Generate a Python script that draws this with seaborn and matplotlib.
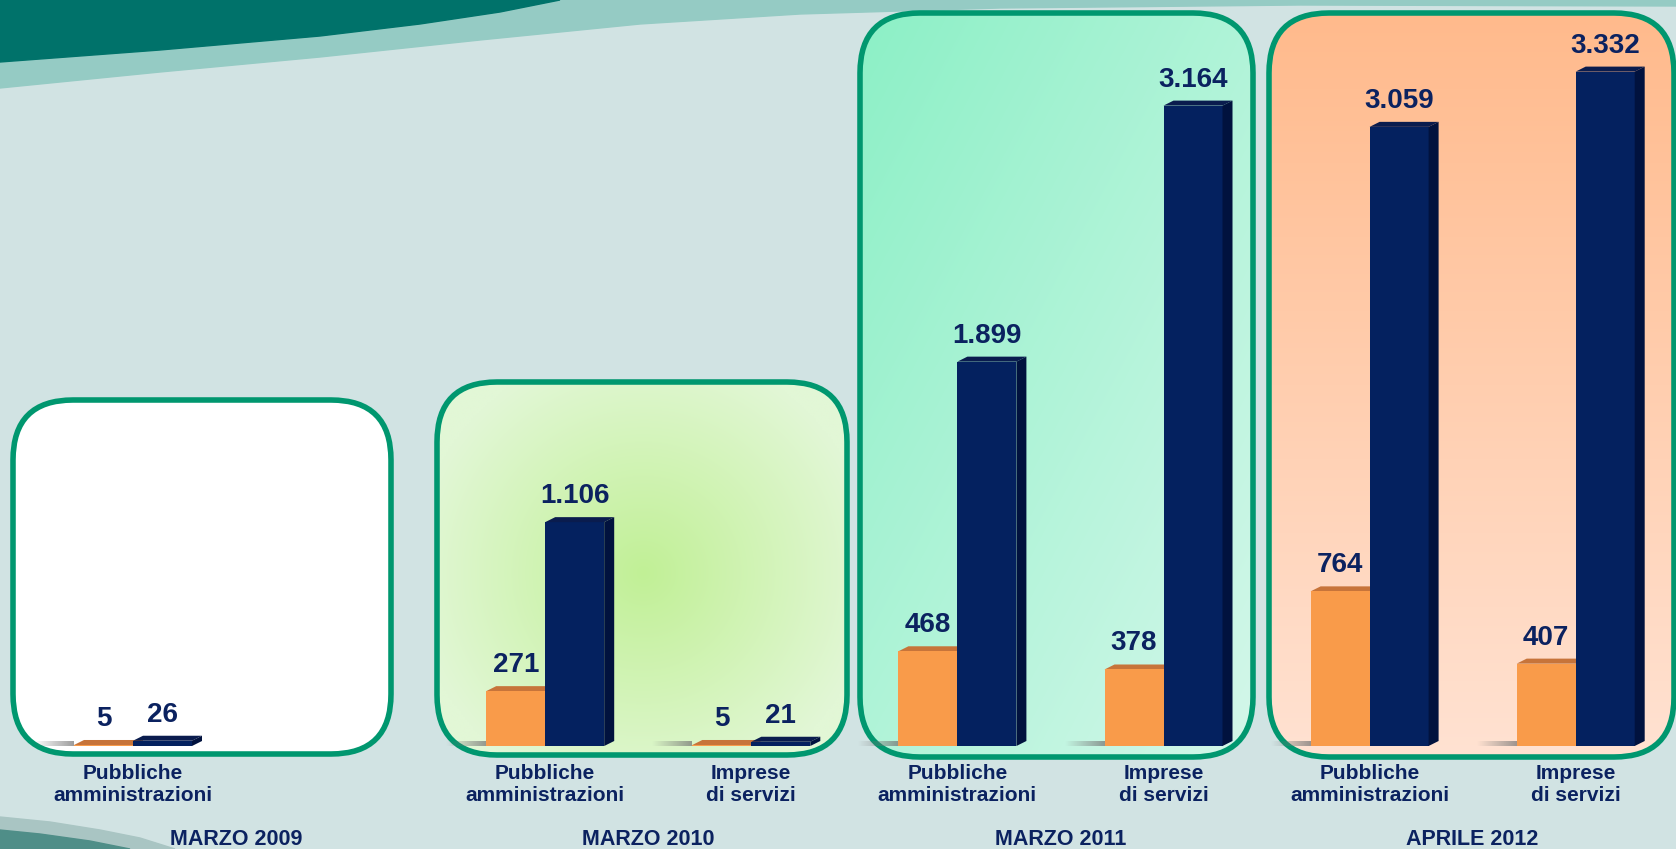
import matplotlib
matplotlib.use("Agg")
import matplotlib.pyplot as plt
import numpy as np
import pandas as pd
import seaborn as sns
from matplotlib.patches import FancyBboxPatch, Polygon, Rectangle

# data
periods = ["MARZO 2009", "MARZO 2010", "MARZO 2011", "APRILE 2012"]
sectors = ["Pubbliche\namministrazioni", "Imprese\ndi servizi"]
series_names = ["arancio", "blu"]

pa_orange = [5, 271, 468, 764]
pa_navy = [26, 1106, 1899, 3059]
imp_orange = [None, 5, 378, 407]
imp_navy = [None, 21, 3164, 3332]

# colours
ORANGE, ORANGE_TOP = "#F99B4A", "#C7743A"
NAVY, NAVY_TOP, NAVY_SIDE = "#04215F", "#0A1C4E", "#01123E"
TEXT = "#0B2260"
BG = "#D1E3E3"
BORDER = "#00976F"

# layout in pixels
W, H = 1676, 849
SLOT0_PX, SLOT_PX = 133, 206.1
BASE_PX, PX_PER_UNIT = 746, 0.2024
BAR_PX = 59

rows = []
for i, period in enumerate(periods):
    pairs = [(sectors[0], pa_orange[i], pa_navy[i]),
             (sectors[1], imp_orange[i], imp_navy[i])]
    for sector, vo, vn in pairs:
        if vo is None:
            continue
        slot = f"{period}|{sector}"
        rows.append({"slot": slot, "serie": series_names[0], "valore": vo})
        rows.append({"slot": slot, "serie": series_names[1], "valore": vn})
df = pd.DataFrame(rows)
slots = [f"{p}|{s}" for p in periods for s in sectors]

sns.set_style("white")
plt.rcParams["font.family"] = ["Liberation Sans", "DejaVu Sans"]

fig = plt.figure(figsize=(W / 100, H / 100), dpi=100)

# ---- background layer, in pixel units ----
bg = fig.add_axes([0, 0, 1, 1], zorder=0)
bg.set_axis_off()
bg.add_patch(Rectangle((0, 0), W, H, color=BG, zorder=0))

light_edge = [(0, 88), (160, 72), (320, 57), (480, 40), (640, 24), (800, 14),
              (1000, 8), (1300, 5), (1676, 6)]
bg.add_patch(Polygon(light_edge + [(W, 0), (0, 0)], color="#95CBC4", zorder=1))
dark_edge = [(0, 62), (160, 50), (320, 36), (420, 24), (500, 12), (560, 0)]
bg.add_patch(Polygon(dark_edge + [(0, 0)], color="#00726A", zorder=1))
bg.add_patch(Polygon([(0, 817), (50, 822), (100, 830), (140, 838), (175, 849), (0, 849)],
                     color="#A9C5C3", zorder=1))
bg.add_patch(Polygon([(0, 830), (40, 834), (90, 841), (130, 849), (0, 849)],
                     color="#4F8E88", zorder=1))


def hex_rgb(c):
    return np.array([int(c[i:i + 2], 16) for i in (1, 3, 5)]) / 255


def blend(c0, c1, t):
    t = np.clip(t, 0, 1)[..., None]
    return hex_rgb(c0) * (1 - t) + hex_rgb(c1) * t


def rounded_box(l, t, r, b, kind, c0, c1):
    yy, xx = np.mgrid[t:b:200j, l:r:200j]
    if kind == "radial":
        cx, cy = 643, 573
        d = np.sqrt(((xx - cx) / 230) ** 2 + ((yy - cy) / 230) ** 2)
        img = blend(c0, c1, d)
    elif kind == "diag":
        img = blend(c0, c1, ((xx - l) / (r - l) + (yy - t) / (b - t)) / 2)
    else:
        img = blend(c0, c1, (yy - t) / (b - t))
    frame = FancyBboxPatch((l, t), r - l, b - t,
                           boxstyle="round,pad=0,rounding_size=60",
                           facecolor="none", edgecolor=BORDER, lw=4, zorder=3)
    bg.add_patch(frame)
    im = bg.imshow(img, extent=(l, r, b, t), origin="upper", aspect="auto",
                   interpolation="bilinear", zorder=2)
    im.set_clip_path(frame)


rounded_box(13, 400, 391, 754, "flat", "#FFFFFF", "#FFFFFF")
rounded_box(437, 382, 847, 755, "radial", "#C1F096", "#E2F7D6")
rounded_box(860, 13, 1253, 757, "diag", "#8CF0C6", "#D4F7EA")
rounded_box(1269, 13, 1674, 757, "vertical", "#FFBA8C", "#FFE2D2")
bg.set_xlim(0, W)
bg.set_ylim(H, 0)

# ---- data layer ----
ax = fig.add_axes([0, 0, 1, 1], zorder=1)
ax.patch.set_alpha(0)
sns.barplot(data=df, x="slot", y="valore", hue="serie", order=slots,
            hue_order=series_names, palette=[ORANGE, NAVY], saturation=1,
            width=2 * BAR_PX / SLOT_PX, errorbar=None, legend=False,
            linewidth=0, ax=ax)

x_left = -SLOT0_PX / SLOT_PX
y_bottom = -(H - BASE_PX) / PX_PER_UNIT
ax.set_xlim(x_left, x_left + W / SLOT_PX)
ax.set_ylim(y_bottom, y_bottom + H / PX_PER_UNIT)
ax.set_axis_off()


def ypx(py):
    return (BASE_PX - py) / PX_PER_UNIT


dx = 10 / SLOT_PX
dy = 5 / PX_PER_UNIT
navy_rgb = hex_rgb(NAVY)
for bar in list(ax.patches):
    h = bar.get_height()
    if not np.isfinite(h):
        continue
    x0, w = bar.get_x(), bar.get_width()
    is_navy = np.allclose(bar.get_facecolor()[:3], navy_rgb, atol=0.02)
    bar.set_zorder(3)
    z = 4 if is_navy else 2
    ax.add_patch(Polygon([(x0, h), (x0 + w, h), (x0 + w + dx, h + dy), (x0 + dx, h + dy)],
                         color=NAVY_TOP if is_navy else ORANGE_TOP, lw=0, zorder=z))
    ax.add_patch(Polygon([(x0 + w, 0), (x0 + w, h), (x0 + w + dx, h + dy), (x0 + w + dx, dy)],
                         color=NAVY_SIDE if is_navy else ORANGE_TOP, lw=0, zorder=z))
    if not is_navy:
        # floor shadow left of the pair
        grad = np.zeros((1, 64, 4))
        grad[..., :3] = 0.45
        grad[..., 3] = np.linspace(0, 0.7, 64)
        ax.imshow(grad, extent=(x0 - 40 / SLOT_PX, x0, 0, dy), aspect="auto",
                  interpolation="bilinear", zorder=1)
    ax.annotate(f"{h:,.0f}".replace(",", "."), xy=(x0 + w / 2, h),
                xytext=(0, 19 * 0.72), textcoords="offset points",
                ha="center", va="baseline", fontsize=20, fontweight="bold",
                color=TEXT, zorder=5)

ax.set_xlim(x_left, x_left + W / SLOT_PX)
ax.set_ylim(y_bottom, y_bottom + H / PX_PER_UNIT)

present = set(df["slot"])
for k, slot in enumerate(slots):
    if slot in present:
        ax.text(k, ypx(764), slot.split("|")[1], ha="center", va="top",
                fontsize=15, fontweight="bold", color=TEXT, linespacing=1.2)
for g, period in enumerate(periods):
    ax.text(2 * g + 0.5, ypx(845), period, ha="center", va="baseline",
            fontsize=15.5, fontweight="bold", color=TEXT)

fig.savefig("out.png", dpi=100)
